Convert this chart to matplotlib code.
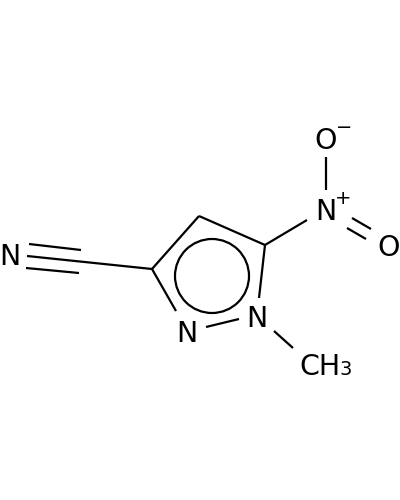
import matplotlib
matplotlib.use('Agg')
import matplotlib.pyplot as plt
from matplotlib.patches import Circle

# bonds in image pixels: x1, y1, x2, y2
ring_bonds = [(152, 269, 199, 216), (199, 216, 265, 245), (265, 245, 259, 298),
              (206, 327, 239, 319), (152, 269, 176, 311)]
nitrile_bonds = [(152, 269, 27, 256), (29, 244, 81, 250), (26, 268, 79, 273)]
nitro_bonds = [(265, 245, 307, 220), (326, 157, 326, 190), (352, 218, 371, 229), (347, 228, 366, 239)]
methyl_bonds = [(274, 331, 293, 348)]
ring_centre = (212, 276)
ring_radius = 37

atoms = [('N', 10, 254), ('N', 187, 331), ('N', 257, 316), ('N', 326, 209),
         ('O', 326, 138), ('O', 389, 245)]
charges = [('+', 343, 196), ('\u2212', 344, 125)]

fig = plt.figure(figsize=(4, 5), dpi=100)
ax = fig.add_axes([0, 0, 1, 1])
ax.set_xlim(0, 400)
ax.set_ylim(500, 0)
ax.axis('off')

for bond in ring_bonds + nitrile_bonds + nitro_bonds + methyl_bonds:
    ax.plot([bond[0], bond[2]], [bond[1], bond[3]], color='black', lw=1.6, solid_capstyle='butt')
ax.add_patch(Circle(ring_centre, ring_radius, fill=False, ec='black', lw=1.6))

for label, x, y in atoms:
    ax.text(x, y, label, fontsize=20.5, ha='center', va='center_baseline')
for label, x, y in charges:
    ax.text(x, y, label, fontsize=14, ha='center', va='center_baseline')

ax.text(299, 375, 'CH', fontsize=20.5, ha='left', va='baseline')
ax.text(339.5, 375, '3', fontsize=14, ha='left', va='baseline')

fig.savefig('out.png', dpi=100)
